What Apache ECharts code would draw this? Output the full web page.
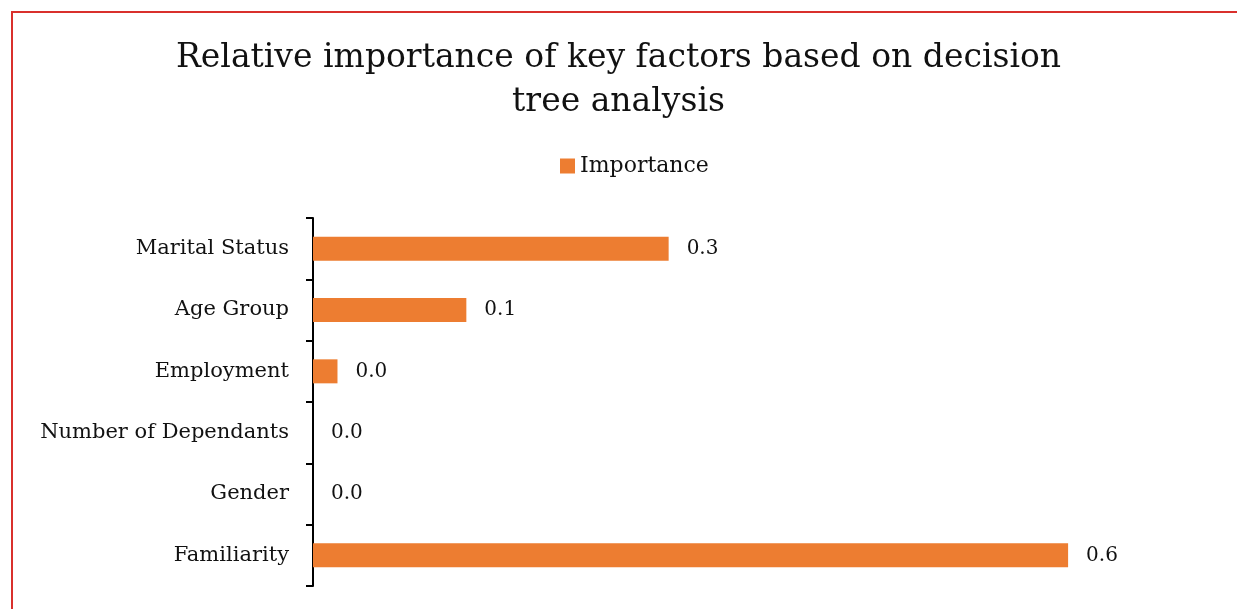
<!DOCTYPE html>
<html>
<head>
<meta charset="utf-8">
<script src="https://cdn.jsdelivr.net/npm/echarts@6/dist/echarts.min.js"></script>
<style>
  html, body { margin: 0; padding: 0; background: #fff; }
  #frame {
    position: absolute; left: 11px; top: 11px; width: 1226px; height: 598px;
    border-left: 2px solid #d9302c; border-top: 2px solid #d9302c;
  }
  #chart { position: absolute; left: 0; top: 0; width: 1237px; height: 609px; }
</style>
</head>
<body>
<div id="frame"></div>
<div id="chart"></div>
<script>
// Decision-tree feature importances (top to bottom as drawn)
const categories = ['Marital Status', 'Age Group', 'Employment', 'Number of Dependants', 'Gender', 'Familiarity'];
const importance = [0.276, 0.119, 0.019, 0.0, 0.0, 0.586];
const seriesName = 'Importance';
const titleText = 'Relative importance of key factors based on decision\ntree analysis';

const FONT = 'DejaVu Serif';
const chart = echarts.init(document.getElementById('chart'), null, { renderer: 'canvas' });

chart.setOption({
  backgroundColor: 'transparent',
  animation: false,
  title: {
    text: titleText,
    left: 'center',
    top: 31,
    textStyle: { fontFamily: FONT, fontSize: 33, fontWeight: 'normal', color: '#111', lineHeight: 44 }
  },
  legend: {
    data: [seriesName],
    top: 150,
    left: 555,
    icon: 'rect',
    itemWidth: 15,
    itemHeight: 15,
    itemGap: 5,
    textStyle: { fontFamily: FONT, fontSize: 22, color: '#111' }
  },
  grid: { left: 313, top: 218, width: 902, height: 368 },
  xAxis: {
    type: 'value',
    min: 0,
    max: 0.7,
    show: false
  },
  yAxis: {
    type: 'category',
    data: categories,
    inverse: true,
    axisLine: { show: true, lineStyle: { color: '#000', width: 2 } },
    axisTick: { show: true, length: 7, lineStyle: { color: '#000', width: 2 } },
    axisLabel: { fontFamily: FONT, fontSize: 21, color: '#111', margin: 24 },
    splitLine: { show: false }
  },
  series: [{
    name: seriesName,
    type: 'bar',
    data: importance,
    barWidth: 24,
    itemStyle: { color: '#ed7d31' },
    label: {
      show: true,
      position: 'right',
      distance: 18,
      fontFamily: FONT,
      fontSize: 20,
      color: '#111',
      formatter: p => p.value.toFixed(1)
    }
  }]
});
</script>
</body>
</html>
